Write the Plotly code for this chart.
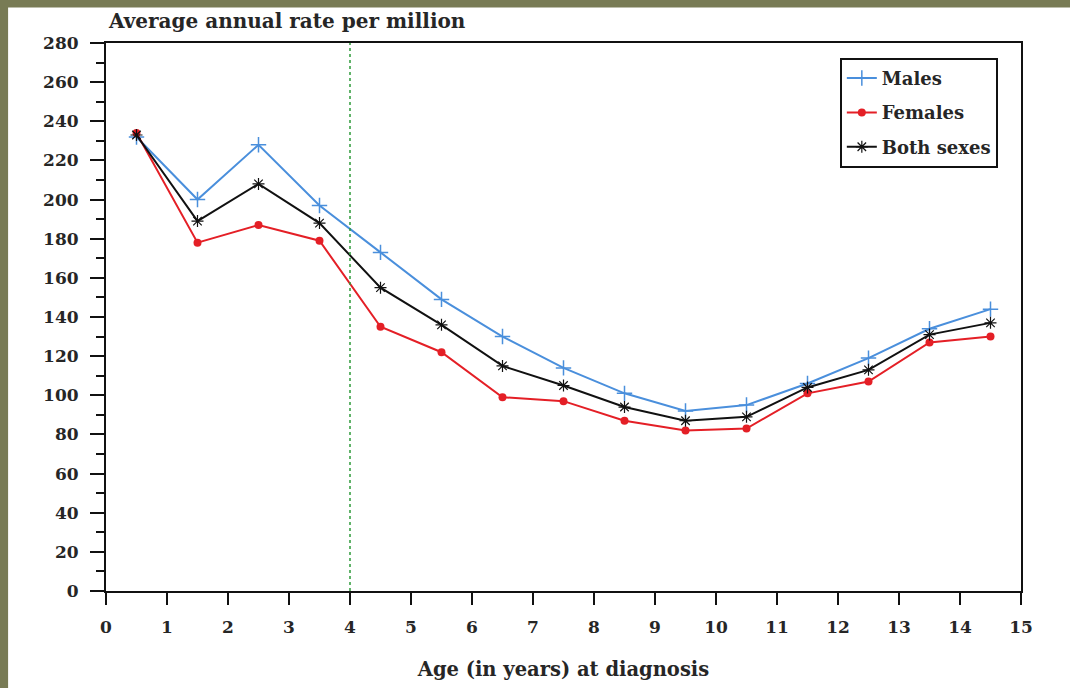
import plotly.graph_objects as go

ages = [0.5, 1.5, 2.5, 3.5, 4.5, 5.5, 6.5, 7.5, 8.5, 9.5, 10.5, 11.5, 12.5, 13.5, 14.5]
males = [232, 200, 228, 197, 173, 149, 130, 114, 101, 92, 95, 106, 119, 134, 144]
females = [234, 178, 187, 179, 135, 122, 99, 97, 87, 82, 83, 101, 107, 127, 130]
both = [233, 189, 208, 188, 155, 136, 115, 105, 94, 87, 89, 104, 113, 131, 137]
x_ticks = list(range(0, 16))
y_ticks = list(range(0, 281, 20))
marker_x = 4

FONT = "DejaVu Serif"
TXT = "#262626"
fig = go.Figure()
fig.add_trace(go.Scatter(x=ages, y=males, name="Males", mode="lines+markers", legendgroup="m",
                         line=dict(color="#4a8fdc", width=2),
                         marker=dict(symbol="cross-thin", size=11, line=dict(color="#4a8fdc", width=1.5))))
fig.add_trace(go.Scatter(x=ages, y=females, name="Females", mode="lines+markers", legendgroup="f",
                         line=dict(color="#e41f26", width=2),
                         marker=dict(symbol="circle", size=8, color="#e41f26")))
fig.add_trace(go.Scatter(x=ages, y=both, name="Both sexes", mode="lines+markers", legendgroup="b",
                         line=dict(color="#111111", width=2),
                         marker=dict(symbol="asterisk-open", size=10, line=dict(color="#111111", width=1.2))))

fig.add_shape(type="line", x0=marker_x, x1=marker_x, y0=0, y1=280, xref="x", yref="y",
              line=dict(color="#2e9a3a", width=1.5, dash="dot"))
# white page area over olive frame
fig.add_shape(type="rect", xref="paper", yref="paper", x0=-0.107, x1=1.2, y0=-0.3, y1=1.065,
              fillcolor="white", line=dict(width=0), layer="below")

fig.update_layout(
    width=1070, height=688,
    paper_bgcolor="#787b55", plot_bgcolor="rgba(0,0,0,0)",
    margin=dict(l=106, r=49, t=43, b=97),
    font=dict(family=FONT, color=TXT, size=14),
    showlegend=True,
    legend=dict(x=0.802, y=0.973, xanchor="left", yanchor="top",
                bordercolor="#111111", borderwidth=2, bgcolor="white",
                font=dict(family=FONT, size=18, color=TXT, weight="bold"),
                itemwidth=30, tracegroupgap=8, traceorder="grouped"),
    xaxis=dict(range=[0, 15], tickvals=x_ticks, ticks="outside", ticklen=12, tickwidth=2,
               tickcolor="#111111", ticklabelstandoff=8,
               showline=True, linecolor="#111111", linewidth=2, mirror=True, showgrid=False,
               zeroline=False, tickfont=dict(family=FONT, size=17, weight="bold", color=TXT),
               title=dict(text="Age (in years) at diagnosis", standoff=26,
                          font=dict(family=FONT, size=19.5, weight="bold", color=TXT))),
    yaxis=dict(range=[0, 280], tickvals=y_ticks, ticks="outside", ticklen=14, tickwidth=2,
               tickcolor="#111111", ticklabelstandoff=8,
               showline=True, linecolor="#111111", linewidth=2, mirror=True, showgrid=False,
               zeroline=False, tickfont=dict(family=FONT, size=17, weight="bold", color=TXT),
               minor=dict(dtick=10, ticks="outside", ticklen=8, tickwidth=2, tickcolor="#111111", showgrid=False)),
    annotations=[dict(text="Average annual rate per million", xref="paper", yref="paper",
                      x=0.0, y=1.0, xanchor="left", yanchor="bottom", yshift=8, showarrow=False,
                      font=dict(family=FONT, size=20, weight="bold", color=TXT))],
)
fig.write_html("out.html", config={"displayModeBar": False},
               post_script="document.body.style.margin='0';document.body.style.overflow='hidden';")
